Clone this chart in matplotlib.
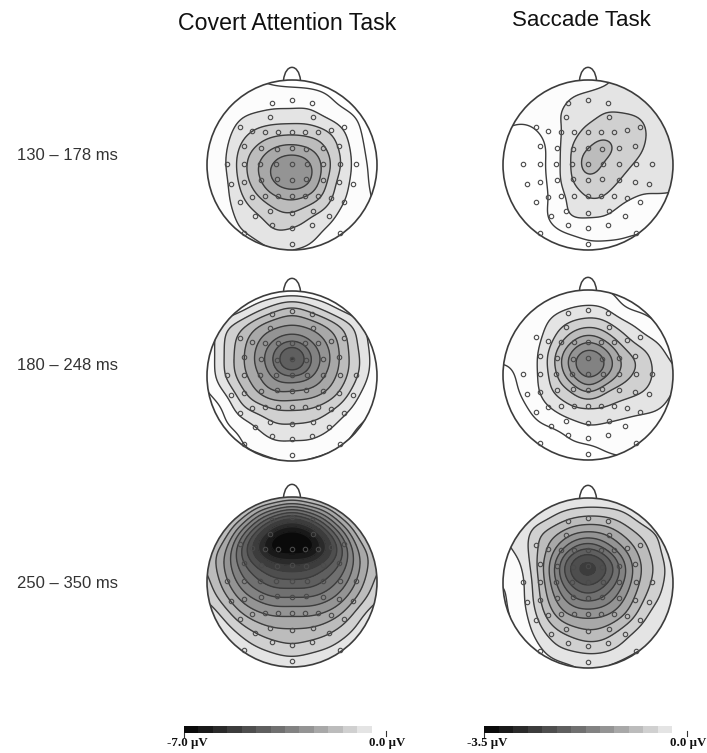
import numpy as np
import matplotlib
matplotlib.use('Agg')
import matplotlib.pyplot as plt
from matplotlib.colors import ListedColormap
from matplotlib.patches import Circle, PathPatch
from matplotlib.path import Path

W, H = 707, 753

col_titles = ['Covert Attention Task', 'Saccade Task']
row_labels = ['130 – 178 ms', '180 – 248 ms', '250 – 350 ms']
bar_ticks = [['-7.0 µV', '0.0 µV'], ['-3.5 µV', '0.0 µV']]

# scalp values, in contour steps (0.5 µV left column, 0.25 µV right column)
# rows run from the front of the head to the back, columns from left to right
covert_130 = [
    [1, 1, 1, 1, .8, .7, .6, .5, .5, .5, .5],
    [1, 1, 1.2, 1.3, 1.4, 1.4, 1.4, 1.1, .7, .5, .5],
    [1, 1.3, 1.8, 2.1, 2.3, 2.3, 2.3, 1.7, 1.2, .8, .5],
    [1, 1.5, 2.5, 3.2, 3.5, 3.6, 3.5, 3.1, 2.1, 1, .5],
    [1, 1.7, 3.2, 4.2, 5.1, 5.4, 5, 4, 2.6, 1.2, .5],
    [1, 1.8, 3.5, 5, 6.3, 6.8, 6.3, 4.5, 2.8, 1.3, .7],
    [1, 1.6, 3.3, 4.7, 6.2, 6.7, 6.2, 4.1, 2.4, 1.4, .6],
    [1, 1.6, 2.8, 3.8, 4.7, 5.1, 4.6, 3.5, 2.1, 1.4, .8],
    [1, 1.5, 2.3, 2.9, 3.6, 3.8, 3.1, 2.5, 1.6, 1.2, 1],
    [1, 1.5, 1.9, 2.3, 2.9, 2.7, 2.4, 1.8, 1.5, 1.2, 1],
    [1.5, 1.5, 1.5, 1.6, 1.9, 1.9, 1.8, 1.5, 1.5, 1.5, 1.5],
]
saccade_130 = [
    [1.2, 1.2, 1.2, 1.2, 1.3, 1.5, 1.9, 2.1, 2.1, 2.1, 2.1],
    [1.1, 1.1, 1.2, 1.5, 2, 2.2, 2.3, 2.2, 2.1, 2.1, 2.1],
    [1.1, 1.1, 1.3, 1.8, 2.3, 2.6, 3.1, 3.1, 2.9, 2.4, 2.1],
    [1, .9, .95, 1.6, 2.5, 3.3, 3.6, 3.5, 3.3, 2.6, 2.2],
    [.8, .6, .7, 1.4, 3, 4, 4.4, 3.6, 3.2, 2.5, 2.2],
    [.7, .5, .6, 1.5, 3, 4.6, 3.8, 3.3, 2.8, 2.4, 2.2],
    [.7, .5, .6, 1.4, 2.9, 3.6, 3.4, 2.9, 2.3, 2.2, 2.1],
    [.8, .6, .7, 1.2, 2.3, 3, 2.9, 2.2, 1.9, 1.9, 1.9],
    [.9, .8, .8, 1.2, 2.1, 2.1, 2, 1.5, 1.4, 1.4, 1.5],
    [1, .9, .8, .8, 1, 1.2, 1.2, 1.1, 1, 1, 1],
    [.8, .8, .8, .8, .8, .8, .8, .8, .8, .8, .8],
]
covert_180 = [
    [.9, .9, .9, .9, .9, .9, .9, .9, .9, .9, .9],
    [.8, 1, 1.5, 2.5, 3.5, 4.2, 3.5, 2.5, 1.5, 1, .8],
    [1, 2.5, 3.6, 4.9, 5.7, 6, 5.7, 4.9, 3.7, 2.3, 1],
    [1.1, 3, 4.5, 6, 7.2, 8.2, 7.2, 6, 4.5, 2.7, 1.2],
    [1.1, 3, 4.7, 6.4, 8.4, 10.8, 8.4, 6.5, 4.6, 3, 1.2],
    [1.1, 2.9, 4.5, 5.9, 7.3, 8, 7.3, 5.9, 4.4, 2.8, 1.1],
    [.8, 1.9, 3.6, 5, 5.9, 5.8, 5.6, 4.9, 3.6, 2, .9],
    [.5, 1, 2.6, 3.3, 3.9, 4, 3.9, 3.3, 2.4, 1.4, .9],
    [.4, .8, 1.3, 2.1, 2.8, 2.8, 2.7, 2.3, 1.5, .9, .8],
    [.3, .4, .95, 1.3, 1.8, 1.8, 1.8, 1.4, 1, .8, .7],
    [.7, .7, .7, .7, .8, .95, .8, .7, .7, .7, .7],
]
saccade_180 = [
    [1.3, 1.3, 1.3, 1.3, 1.3, 1.1, .9, .8, .7, .7, .7],
    [1.3, 1.3, 1.4, 1.6, 1.9, 2.1, 1.9, 1, .7, .7, .7],
    [1.3, 1.3, 1.5, 2.4, 3.2, 3.6, 3.3, 2.4, 1.7, 1, .7],
    [1.2, 1.2, 1.7, 3.1, 4.8, 5.9, 5, 3.6, 2.6, 2, 1.2],
    [1.1, 1.2, 1.9, 3.9, 6.5, 8, 7, 4.8, 3.8, 2.6, 1.8],
    [.8, 1.1, 1.9, 3.6, 5.9, 7.5, 6.4, 4.6, 3.7, 2.8, 2],
    [.7, 1, 1.8, 3.1, 3.9, 5.1, 4, 3.4, 3.1, 2.6, 1.9],
    [.6, .75, 1.3, 2.1, 2.8, 2.9, 2.9, 2.6, 2.3, 2.1, 1.6],
    [.6, .6, .85, 1.05, 1.5, 2, 1.8, 1.6, 1.5, 1.4, 1.2],
    [.7, .6, .6, .7, .9, 1, 1.2, 1.25, 1.2, 1.1, 1],
    [.7, .7, .7, .7, .7, .7, .8, .9, 1, 1, 1],
]
covert_250 = [
    [2, 2, 2, 2.5, 3, 3.5, 3, 2.5, 2, 2, 2],
    [3, 3, 4, 6.5, 8.5, 9.7, 8.5, 6.5, 4, 3, 3],
    [3, 4, 7, 10.3, 13.2, 14.2, 13.2, 10.3, 7, 4, 3],
    [4, 5.5, 9, 12.2, 14.8, 15, 14.8, 12.2, 9, 5.5, 4],
    [4, 6, 8.5, 10.3, 11.6, 12, 11.6, 10.3, 8.5, 6, 4],
    [3.5, 5.5, 7.5, 8.8, 9.6, 9.7, 9.6, 8.8, 7.5, 5.5, 3.5],
    [3, 4.5, 6.2, 7.2, 7.8, 7.8, 7.8, 7.3, 6.2, 4.5, 3],
    [2, 3.2, 4.7, 5.6, 6, 6, 6, 5.6, 4.7, 3.2, 2],
    [1.5, 2.2, 3.2, 4.1, 4.6, 4.7, 4.6, 4.2, 3.4, 2.4, 1.5],
    [1, 1.5, 2.2, 2.8, 3.3, 3.6, 3.3, 2.9, 2.3, 1.6, 1.2],
    [1, 1, 1.5, 1.7, 1.9, 2, 1.9, 1.7, 1.5, 1.2, 1],
]
saccade_250 = [
    [1.9, 1.9, 1.9, 1.9, 1.9, 1.9, 1.9, 1.9, 1.8, 1.5, 1.5],
    [2, 2, 2.1, 2.9, 3.6, 3.9, 3.8, 3.3, 2.4, 1.6, 1.5],
    [2, 2.2, 3.6, 4.6, 5.6, 6, 5.7, 4.8, 3.8, 2.9, 1.7],
    [1.9, 2.3, 3.9, 5.8, 8, 9.2, 8, 6.2, 4.7, 3.4, 1.8],
    [1.3, 1.8, 4, 6.9, 10.4, 11.6, 10.4, 7.6, 5.2, 3.8, 2.2],
    [1, 1.5, 3.7, 6.6, 9.3, 10.4, 9.3, 7.2, 5, 3.6, 2.2],
    [.9, 1.5, 3.5, 5.8, 7.5, 8.2, 7.6, 6.2, 4.4, 3.1, 2.1],
    [.9, 1.3, 3, 4.8, 5.9, 6.1, 5.9, 5, 3.6, 2.4, 2],
    [.9, 1.1, 2.3, 3.5, 4.2, 4.7, 4.4, 3.5, 2.6, 2.1, 1.9],
    [1, 1, 1.6, 2.6, 3, 3.2, 3.1, 2.6, 2, 1.8, 1.5],
    [1, 1, 1, 1.3, 1.7, 2, 1.8, 1.4, 1, 1, 1],
]
maps = [covert_130, saccade_130, covert_180, saccade_180, covert_250, saccade_250]

# electrode montage, same for every map
elec_x = [-.24, 0, .23, -.26, .25,
          -.61, -.47, -.32, -.16, 0, .15, .31, .46, .61,
          -.56, -.37, -.18, 0, .17, .36, .55,
          -.76, -.57, -.38, -.19, 0, .18, .37, .56, .75,
          -.72, -.56, -.37, -.18, 0, .17, .36, .55, .72,
          -.61, -.47, -.32, -.16, 0, .15, .31, .46, .61,
          -.44, -.26, 0, .25, .44,
          -.24, 0, .23, -.57, .56, 0]
elec_y = [.73, .76, .73, .56, .56,
          .45, .40, .39, .39, .39, .39, .39, .41, .45,
          .22, .20, .19, .20, .19, .20, .22,
          .01, .01, .01, .01, .01, .01, .01, .01, .01,
          -.22, -.20, -.18, -.17, -.18, -.17, -.18, -.20, -.22,
          -.43, -.38, -.37, -.37, -.37, -.37, -.37, -.39, -.43,
          -.60, -.54, -.56, -.54, -.60,
          -.71, -.74, -.71, -.80, -.80, -.93]

# grey level of each 1-step band, white at 0
band_grey = [255, 252, 228, 208, 188, 168, 148, 130, 112, 95, 78, 60, 42, 25, 10]
band_colors = [str(g / 255) for g in band_grey]
levels = np.arange(0, 16)
# contour lines stay dark, and fade into the fill where the fill is darker
line_colors = [str(min(g, 60) / 255) for g in band_grey]

# head centres in pixels, same order as maps
centers = [(292, 165), (588, 165), (292, 376), (588, 375), (292, 582), (588, 583)]
radius = 85
line_col = '#3c3c3c'


def spline_matrix(n, m):
    # natural cubic spline from n even knots to m even points, as a matrix
    h = 2 / (n - 1)
    knots = np.linspace(-1, 1, n)
    q = np.linspace(-1, 1, m)
    A = np.eye(n)
    B = np.zeros((n, n))
    for i in range(1, n - 1):
        A[i, i - 1], A[i, i], A[i, i + 1] = h / 6, 2 * h / 3, h / 6
        B[i, i - 1], B[i, i], B[i, i + 1] = 1 / h, -2 / h, 1 / h
    curv = np.linalg.solve(A, B)
    idx = np.clip(((q + 1) / h).astype(int), 0, n - 2)
    t1 = (knots[idx + 1] - q) / h
    t2 = (q - knots[idx]) / h
    M = np.zeros((m, n))
    for k in range(m):
        i = idx[k]
        M[k, i] += t1[k]
        M[k, i + 1] += t2[k]
        M[k] += (t1[k] ** 3 - t1[k]) * h * h / 6 * curv[i] + (t2[k] ** 3 - t2[k]) * h * h / 6 * curv[i + 1]
    return M


def soften(z, sigma=7):
    # small blur so the hand read grid does not show in the contours
    r = 3 * sigma
    kernel = np.exp(-0.5 * (np.arange(-r, r + 1) / sigma) ** 2)
    kernel /= kernel.sum()
    z = np.pad(z, r, mode='edge')
    z = np.apply_along_axis(lambda v: np.convolve(v, kernel, mode='same'), 0, z)
    z = np.apply_along_axis(lambda v: np.convolve(v, kernel, mode='same'), 1, z)
    return z[r:-r, r:-r]


fine = np.linspace(-1, 1, 201)
M = spline_matrix(11, 201)

fig = plt.figure(figsize=(W / 100, H / 100), dpi=100)
plt.rcParams['font.family'] = ['Liberation Sans', 'DejaVu Sans']

for values, (cx, cy) in zip(maps, centers):
    span = radius * 1.25
    ax = fig.add_axes([(cx - span) / W, 1 - (cy + span) / H, 2 * span / W, 2 * span / H])
    ax.set_xlim(-1.25, 1.25)
    ax.set_ylim(-1.25, 1.25)
    ax.axis('off')

    z = soften(M @ np.array(values, dtype=float) @ M.T)
    clip = Circle((0, 0), 1, transform=ax.transData)
    filled = ax.contourf(fine, fine[::-1], z, levels=levels, colors=band_colors, extend='both')
    lines = ax.contour(fine, fine[::-1], z, levels=levels[1:], colors=line_colors, linewidths=1.0)
    filled.set_clip_path(clip)
    lines.set_clip_path(clip)

    ax.add_patch(Circle((0, 0), 1, fill=False, ec=line_col, lw=1.2))
    nose = Path([(-.1, .995), (-.08, 1.2), (.08, 1.2), (.1, .995)],
                [Path.MOVETO, Path.CURVE4, Path.CURVE4, Path.CURVE4])
    ax.add_patch(PathPatch(nose, fill=False, ec=line_col, lw=1.1))
    ax.plot(elec_x, elec_y, 'o', ms=3.2, mfc='none', mec='#4a4a4a', mew=.8)

# column titles and row labels
fig.text(287 / W, 1 - 23 / H, col_titles[0], ha='center', va='center', fontsize=16.7, color='#111111')
fig.text(581.5 / W, 1 - 20 / H, col_titles[1], ha='center', va='center', fontsize=16, color='#111111')
for label, y in zip(row_labels, [155, 365, 584]):
    fig.text(17 / W, 1 - y / H, label, ha='left', va='center', fontsize=12, color='#333333')

# colour bars, the band just above white is skipped as it would not show
bar_greys = band_colors[:1] + band_colors[2:]
for (x0, x1), ticks, tmin in zip([(184, 386), (484, 687)], bar_ticks, [-7.0, -3.5]):
    cax = fig.add_axes([x0 / W, 1 - 733 / H, (x1 - x0) / W, 7 / H])
    edges = np.linspace(tmin, 0, len(bar_greys) + 1)
    centres = (edges[:-1] + edges[1:]) / 2
    cax.pcolormesh(edges, [0, 1], [centres], cmap=ListedColormap(bar_greys[::-1]), vmin=tmin, vmax=0)
    cax.axis('off')
    fig.add_artist(plt.Line2D([x0 / W, x0 / W], [1 - 733 / H, 1 - 737 / H], color='#333333', lw=.8))
    fig.add_artist(plt.Line2D([x1 / W, x1 / W], [1 - 731 / H, 1 - 736 / H], color='#333333', lw=.8))
    fig.text((x0 + 3.5) / W, 1 - 743 / H, ticks[0], ha='center', va='center', fontsize=9.3,
             family='Liberation Serif', weight='bold', color='#111111')
    fig.text((x1 + 1.5) / W, 1 - 743 / H, ticks[1], ha='center', va='center', fontsize=9.3,
             family='Liberation Serif', weight='bold', color='#111111')

fig.savefig('out.png', dpi=100)
